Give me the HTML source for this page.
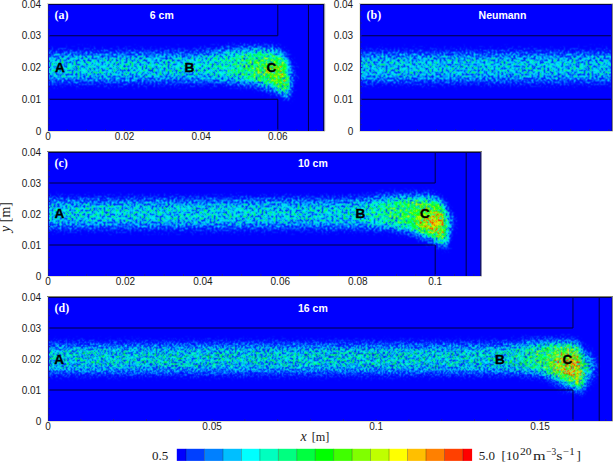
<!DOCTYPE html><html><head><meta charset="utf-8"><style>
html,body{margin:0;padding:0;background:#fff;width:613px;height:462px;overflow:hidden;}
svg{display:block;position:absolute;left:0;top:0;}
.sans{font-family:"Liberation Sans",sans-serif;}
.serif{font-family:"Liberation Serif",serif;}
</style></head><body>
<svg width="613" height="462" viewBox="0 0 613 462">
<defs>
<clipPath id="pc">
<rect x="48" y="4" width="276" height="127"/>
<rect x="360" y="4" width="252" height="127"/>
<rect x="48" y="152" width="433" height="124"/>
</clipPath>
<clipPath id="pcd">
<rect x="48" y="297" width="564" height="124"/>
</clipPath>
<filter id="blr" filterUnits="userSpaceOnUse" x="0" y="0" width="613" height="462" color-interpolation-filters="sRGB"><feGaussianBlur stdDeviation="2.8 4.8"/></filter>
<filter id="cm" filterUnits="userSpaceOnUse" x="0" y="0" width="613" height="462" color-interpolation-filters="sRGB"><feComponentTransfer in="SourceGraphic" result="s"><feFuncG type="gamma" amplitude="1" exponent="0.5" offset="0"/><feFuncB type="gamma" amplitude="1" exponent="0.5" offset="0"/></feComponentTransfer><feTurbulence type="fractalNoise" baseFrequency="0.5" numOctaves="2" seed="7" result="t"/><feColorMatrix in="t" type="matrix" values="0 0 0 0 1  1.680 1.680 0.000 0 -1.180  0 0 0 0 0.5  0 0 0 0 1" result="n"/><feComposite in="s" in2="n" operator="arithmetic" k1="1" k2="0" k3="0" k4="0" result="p"/><feColorMatrix in="p" type="matrix" values="1 1.1 -1.1 0 -0.02  1 1.1 -1.1 0 -0.02  1 1.1 -1.1 0 -0.02  0 0 0 0 1" result="u"/><feComponentTransfer in="u"><feFuncR type="table" tableValues="0 0 0 1 1"/><feFuncG type="table" tableValues="0 1 1 1 0"/><feFuncB type="table" tableValues="1 1 0 0 0"/><feFuncA type="linear" slope="0" intercept="1"/></feComponentTransfer><feConvolveMatrix order="3" kernelMatrix="1 2 1 2 8 2 1 2 1" edgeMode="duplicate"/></filter>
<filter id="cmd" filterUnits="userSpaceOnUse" x="0" y="0" width="613" height="462" color-interpolation-filters="sRGB"><feComponentTransfer in="SourceGraphic" result="s"><feFuncG type="gamma" amplitude="1" exponent="0.5" offset="0"/><feFuncB type="gamma" amplitude="1" exponent="0.5" offset="0"/></feComponentTransfer><feTurbulence type="fractalNoise" baseFrequency="0.62 0.55" numOctaves="2" seed="11" result="t"/><feColorMatrix in="t" type="matrix" values="0 0 0 0 1  1.680 1.680 0.000 0 -1.180  0 0 0 0 0.5  0 0 0 0 1" result="n"/><feComposite in="s" in2="n" operator="arithmetic" k1="1" k2="0" k3="0" k4="0" result="p"/><feColorMatrix in="p" type="matrix" values="1 1.1 -1.1 0 -0.02  1 1.1 -1.1 0 -0.02  1 1.1 -1.1 0 -0.02  0 0 0 0 1" result="u"/><feComponentTransfer in="u"><feFuncR type="table" tableValues="0 0 0 1 1"/><feFuncG type="table" tableValues="0 1 1 1 0"/><feFuncB type="table" tableValues="1 1 0 0 0"/><feFuncA type="linear" slope="0" intercept="1"/></feComponentTransfer><feConvolveMatrix order="3" kernelMatrix="1 2 1 2 8 2 1 2 1" edgeMode="duplicate"/></filter>
<linearGradient id="ga" gradientUnits="userSpaceOnUse" x1="48.0" y1="0" x2="293.1" y2="0"><stop offset="0.0000" stop-color="#3c3c3c"/><stop offset="0.4688" stop-color="#3c3c3c"/><stop offset="0.5781" stop-color="#3e3e3e"/><stop offset="0.7031" stop-color="#474747"/><stop offset="0.7812" stop-color="#575757"/><stop offset="0.8594" stop-color="#6e6e6e"/><stop offset="1.0000" stop-color="#757575"/></linearGradient>
<radialGradient id="dma"><stop offset="0" stop-color="#000" stop-opacity="0.35"/><stop offset="1" stop-color="#000" stop-opacity="0"/></radialGradient>
<radialGradient id="ha"><stop offset="0" stop-color="#fff" stop-opacity="0.33"/><stop offset="1" stop-color="#fff" stop-opacity="0"/></radialGradient>
<linearGradient id="gc" gradientUnits="userSpaceOnUse" x1="48.0" y1="0" x2="450.7" y2="0"><stop offset="0.0000" stop-color="#3c3c3c"/><stop offset="0.6731" stop-color="#3c3c3c"/><stop offset="0.7750" stop-color="#414141"/><stop offset="0.8240" stop-color="#525252"/><stop offset="0.8750" stop-color="#696969"/><stop offset="0.9231" stop-color="#808080"/><stop offset="1.0000" stop-color="#808080"/></linearGradient>
<radialGradient id="dmc"><stop offset="0" stop-color="#000" stop-opacity="0.3"/><stop offset="1" stop-color="#000" stop-opacity="0"/></radialGradient>
<radialGradient id="hc"><stop offset="0" stop-color="#fff" stop-opacity="0.66"/><stop offset="1" stop-color="#fff" stop-opacity="0"/></radialGradient>
<linearGradient id="gd" gradientUnits="userSpaceOnUse" x1="48.0" y1="0" x2="586.1" y2="0"><stop offset="0.0000" stop-color="#3e3e3e"/><stop offset="0.7622" stop-color="#3e3e3e"/><stop offset="0.8415" stop-color="#404040"/><stop offset="0.8780" stop-color="#4c4c4c"/><stop offset="0.9146" stop-color="#666666"/><stop offset="0.9451" stop-color="#808080"/><stop offset="1.0000" stop-color="#808080"/></linearGradient>
<radialGradient id="dmd"><stop offset="0" stop-color="#000" stop-opacity="0.12"/><stop offset="1" stop-color="#000" stop-opacity="0"/></radialGradient>
<radialGradient id="hd"><stop offset="0" stop-color="#fff" stop-opacity="0.7"/><stop offset="1" stop-color="#fff" stop-opacity="0"/></radialGradient>
</defs>
<g clip-path="url(#pc)"><g filter="url(#cm)">
<rect x="0" y="0" width="613" height="462" fill="#000"/>
<g filter="url(#blr)">
<path d="M38,54.5 L182.0,54.5 C208.9,54.5 220.3,50.4 239.5,50.4 L270.1,50.4 C279.6,50.4 287.4,56.1 287.4,63.1 L287.4,73.9 L290.4,94.5 C283.5,94.5 277.8,85.9 266.3,82.7 C251.0,82.7 235.7,79.9 208.9,79.9 L38,79.9 Z" fill="url(#ga)"/>
<ellipse cx="275.9" cy="75.1" rx="23.0" ry="19.1" fill="url(#ha)"/>
<ellipse cx="280.9" cy="52.3" rx="23.0" ry="11.1" fill="url(#dma)"/>
<rect x="350" y="54.5" width="272" height="25.4" fill="#373737"/>
<path d="M38,201.3 L338.4,201.3 C365.5,201.3 377.1,197.9 396.5,197.9 L427.5,197.9 C437.0,197.9 444.9,203.5 444.9,210.3 L444.9,220.2 L448.0,244.4 C441.0,244.4 435.2,236.3 423.6,232.6 C408.1,228.9 392.6,226.1 365.5,226.1 L38,226.1 Z" fill="url(#gc)"/>
<ellipse cx="433.3" cy="222.7" rx="23.2" ry="18.6" fill="url(#hc)"/>
<ellipse cx="438.3" cy="199.1" rx="23.2" ry="10.8" fill="url(#dmc)"/>
</g></g></g>
<g clip-path="url(#pcd)"><g filter="url(#cmd)">
<rect x="0" y="0" width="613" height="462" fill="#000"/>
<g filter="url(#blr)">
<path d="M38,346.3 L490.9,346.3 C513.9,346.3 523.7,344.1 540.1,344.1 L573.6,344.1 C577.2,344.1 580.2,347.6 580.2,351.9 L580.2,365.2 L583.8,389.4 C577.9,389.4 573.0,381.3 563.1,377.6 C550.0,373.9 536.9,371.1 513.9,371.1 L38,371.1 Z" fill="url(#gd)"/>
<ellipse cx="572.0" cy="367.7" rx="26.2" ry="21.7" fill="url(#hd)"/>
<ellipse cx="575.6" cy="344.1" rx="19.7" ry="10.8" fill="url(#dmd)"/>
</g></g></g>
<g stroke="#000040" stroke-width="1" fill="none">
<path d="M48,35.75H277.80V4M48,99.25H277.80V131M308.44,4V131"/>
<path d="M360,35.75H612M360,99.25H612"/>
<path d="M48,183.00H435.20V152M48,245.00H435.20V276M466.18,152V276"/>
<path d="M48,328.00H572.96V297M48,390.00H572.96V421M599.21,297V421"/>
</g>
<rect x="48" y="4" width="276" height="1" fill="#000050"/>
<rect x="323" y="4" width="1" height="127" fill="#000064"/>
<rect x="324" y="3" width="1" height="129" fill="#9696aa"/>
<rect x="325" y="4" width="1" height="127" fill="#eeeee4"/>
<rect x="48" y="4" width="1" height="127" fill="#1010c0"/>
<rect x="47" y="3" width="278" height="1" fill="#d8d8c0"/>
<rect x="47" y="4" width="1" height="128" fill="#ececdc"/>
<rect x="48" y="131" width="277" height="1" fill="#e0e0cc"/>
<rect x="360" y="4" width="252" height="1" fill="#000050"/>
<rect x="611" y="4" width="1" height="127" fill="#0000c8"/>
<rect x="612" y="3" width="1" height="129" fill="#878787"/>
<rect x="360" y="4" width="1" height="127" fill="#1010c0"/>
<rect x="359" y="3" width="254" height="1" fill="#d8d8c0"/>
<rect x="359" y="4" width="1" height="128" fill="#ececdc"/>
<rect x="360" y="131" width="253" height="1" fill="#e0e0cc"/>
<rect x="48" y="152" width="433" height="1" fill="#000050"/>
<rect x="480" y="152" width="1" height="124" fill="#141470"/>
<rect x="481" y="151" width="1" height="126" fill="#8c8cb0"/>
<rect x="48" y="152" width="1" height="124" fill="#1010c0"/>
<rect x="47" y="151" width="435" height="1" fill="#84846c"/>
<rect x="47" y="152" width="1" height="125" fill="#ececdc"/>
<rect x="48" y="276" width="434" height="1" fill="#e0e0cc"/>
<rect x="48" y="297" width="564" height="1" fill="#000050"/>
<rect x="611" y="297" width="1" height="124" fill="#0000c8"/>
<rect x="612" y="296" width="1" height="126" fill="#878787"/>
<rect x="48" y="297" width="1" height="124" fill="#1010c0"/>
<rect x="47" y="296" width="566" height="1" fill="#84846c"/>
<rect x="47" y="297" width="1" height="125" fill="#ececdc"/>
<rect x="48" y="421" width="565" height="1" fill="#e0e0cc"/>
<g fill="#1818a0">
<rect x="48" y="124.15" width="2" height="1"/>
<rect x="48" y="117.80" width="2" height="1"/>
<rect x="48" y="111.45" width="2" height="1"/>
<rect x="48" y="105.10" width="2" height="1"/>
<rect x="48" y="98.75" width="2" height="1"/>
<rect x="48" y="92.40" width="2" height="1"/>
<rect x="48" y="86.05" width="2" height="1"/>
<rect x="48" y="79.70" width="2" height="1"/>
<rect x="48" y="73.35" width="2" height="1"/>
<rect x="48" y="67.00" width="2" height="1"/>
<rect x="48" y="60.65" width="2" height="1"/>
<rect x="48" y="54.30" width="2" height="1"/>
<rect x="48" y="47.95" width="2" height="1"/>
<rect x="48" y="41.60" width="2" height="1"/>
<rect x="48" y="35.25" width="2" height="1"/>
<rect x="48" y="28.90" width="2" height="1"/>
<rect x="48" y="22.55" width="2" height="1"/>
<rect x="48" y="16.20" width="2" height="1"/>
<rect x="48" y="9.85" width="2" height="1"/>
<rect x="66.65" y="129" width="1" height="2"/>
<rect x="85.80" y="129" width="1" height="2"/>
<rect x="104.95" y="129" width="1" height="2"/>
<rect x="124.10" y="129" width="1" height="2"/>
<rect x="143.25" y="129" width="1" height="2"/>
<rect x="162.40" y="129" width="1" height="2"/>
<rect x="181.55" y="129" width="1" height="2"/>
<rect x="200.70" y="129" width="1" height="2"/>
<rect x="219.85" y="129" width="1" height="2"/>
<rect x="239.00" y="129" width="1" height="2"/>
<rect x="258.15" y="129" width="1" height="2"/>
<rect x="277.30" y="129" width="1" height="2"/>
<rect x="296.45" y="129" width="1" height="2"/>
<rect x="315.60" y="129" width="1" height="2"/>
<rect x="360" y="124.15" width="2" height="1"/>
<rect x="360" y="117.80" width="2" height="1"/>
<rect x="360" y="111.45" width="2" height="1"/>
<rect x="360" y="105.10" width="2" height="1"/>
<rect x="360" y="98.75" width="2" height="1"/>
<rect x="360" y="92.40" width="2" height="1"/>
<rect x="360" y="86.05" width="2" height="1"/>
<rect x="360" y="79.70" width="2" height="1"/>
<rect x="360" y="73.35" width="2" height="1"/>
<rect x="360" y="67.00" width="2" height="1"/>
<rect x="360" y="60.65" width="2" height="1"/>
<rect x="360" y="54.30" width="2" height="1"/>
<rect x="360" y="47.95" width="2" height="1"/>
<rect x="360" y="41.60" width="2" height="1"/>
<rect x="360" y="35.25" width="2" height="1"/>
<rect x="360" y="28.90" width="2" height="1"/>
<rect x="360" y="22.55" width="2" height="1"/>
<rect x="360" y="16.20" width="2" height="1"/>
<rect x="360" y="9.85" width="2" height="1"/>
<rect x="378.65" y="129" width="1" height="2"/>
<rect x="397.80" y="129" width="1" height="2"/>
<rect x="416.95" y="129" width="1" height="2"/>
<rect x="436.10" y="129" width="1" height="2"/>
<rect x="455.25" y="129" width="1" height="2"/>
<rect x="474.40" y="129" width="1" height="2"/>
<rect x="493.55" y="129" width="1" height="2"/>
<rect x="512.70" y="129" width="1" height="2"/>
<rect x="531.85" y="129" width="1" height="2"/>
<rect x="551.00" y="129" width="1" height="2"/>
<rect x="570.15" y="129" width="1" height="2"/>
<rect x="589.30" y="129" width="1" height="2"/>
<rect x="608.45" y="129" width="1" height="2"/>
<rect x="48" y="269.30" width="2" height="1"/>
<rect x="48" y="263.10" width="2" height="1"/>
<rect x="48" y="256.90" width="2" height="1"/>
<rect x="48" y="250.70" width="2" height="1"/>
<rect x="48" y="244.50" width="2" height="1"/>
<rect x="48" y="238.30" width="2" height="1"/>
<rect x="48" y="232.10" width="2" height="1"/>
<rect x="48" y="225.90" width="2" height="1"/>
<rect x="48" y="219.70" width="2" height="1"/>
<rect x="48" y="213.50" width="2" height="1"/>
<rect x="48" y="207.30" width="2" height="1"/>
<rect x="48" y="201.10" width="2" height="1"/>
<rect x="48" y="194.90" width="2" height="1"/>
<rect x="48" y="188.70" width="2" height="1"/>
<rect x="48" y="182.50" width="2" height="1"/>
<rect x="48" y="176.30" width="2" height="1"/>
<rect x="48" y="170.10" width="2" height="1"/>
<rect x="48" y="163.90" width="2" height="1"/>
<rect x="48" y="157.70" width="2" height="1"/>
<rect x="66.86" y="274" width="1" height="2"/>
<rect x="86.22" y="274" width="1" height="2"/>
<rect x="105.58" y="274" width="1" height="2"/>
<rect x="124.94" y="274" width="1" height="2"/>
<rect x="144.30" y="274" width="1" height="2"/>
<rect x="163.66" y="274" width="1" height="2"/>
<rect x="183.02" y="274" width="1" height="2"/>
<rect x="202.38" y="274" width="1" height="2"/>
<rect x="221.74" y="274" width="1" height="2"/>
<rect x="241.10" y="274" width="1" height="2"/>
<rect x="260.46" y="274" width="1" height="2"/>
<rect x="279.82" y="274" width="1" height="2"/>
<rect x="299.18" y="274" width="1" height="2"/>
<rect x="318.54" y="274" width="1" height="2"/>
<rect x="337.90" y="274" width="1" height="2"/>
<rect x="357.26" y="274" width="1" height="2"/>
<rect x="376.62" y="274" width="1" height="2"/>
<rect x="395.98" y="274" width="1" height="2"/>
<rect x="415.34" y="274" width="1" height="2"/>
<rect x="434.70" y="274" width="1" height="2"/>
<rect x="454.06" y="274" width="1" height="2"/>
<rect x="473.42" y="274" width="1" height="2"/>
<rect x="48" y="414.30" width="2" height="1"/>
<rect x="48" y="408.10" width="2" height="1"/>
<rect x="48" y="401.90" width="2" height="1"/>
<rect x="48" y="395.70" width="2" height="1"/>
<rect x="48" y="389.50" width="2" height="1"/>
<rect x="48" y="383.30" width="2" height="1"/>
<rect x="48" y="377.10" width="2" height="1"/>
<rect x="48" y="370.90" width="2" height="1"/>
<rect x="48" y="364.70" width="2" height="1"/>
<rect x="48" y="358.50" width="2" height="1"/>
<rect x="48" y="352.30" width="2" height="1"/>
<rect x="48" y="346.10" width="2" height="1"/>
<rect x="48" y="339.90" width="2" height="1"/>
<rect x="48" y="333.70" width="2" height="1"/>
<rect x="48" y="327.50" width="2" height="1"/>
<rect x="48" y="321.30" width="2" height="1"/>
<rect x="48" y="315.10" width="2" height="1"/>
<rect x="48" y="308.90" width="2" height="1"/>
<rect x="48" y="302.70" width="2" height="1"/>
<rect x="80.31" y="419" width="1" height="2"/>
<rect x="113.12" y="419" width="1" height="2"/>
<rect x="145.93" y="419" width="1" height="2"/>
<rect x="178.74" y="419" width="1" height="2"/>
<rect x="211.55" y="419" width="1" height="2"/>
<rect x="244.36" y="419" width="1" height="2"/>
<rect x="277.17" y="419" width="1" height="2"/>
<rect x="309.98" y="419" width="1" height="2"/>
<rect x="342.79" y="419" width="1" height="2"/>
<rect x="375.60" y="419" width="1" height="2"/>
<rect x="408.41" y="419" width="1" height="2"/>
<rect x="441.22" y="419" width="1" height="2"/>
<rect x="474.03" y="419" width="1" height="2"/>
<rect x="506.84" y="419" width="1" height="2"/>
<rect x="539.65" y="419" width="1" height="2"/>
<rect x="572.46" y="419" width="1" height="2"/>
<rect x="605.27" y="419" width="1" height="2"/>
</g>
<g class="sans" font-size="10" fill="#1a1a1a">
<text x="41.2" y="7.6" text-anchor="end">0.04</text>
<text x="41.2" y="39.4" text-anchor="end">0.03</text>
<text x="41.2" y="71.1" text-anchor="end">0.02</text>
<text x="41.2" y="102.8" text-anchor="end">0.01</text>
<text x="41.2" y="134.6" text-anchor="end">0</text>
<text x="353.2" y="7.6" text-anchor="end">0.04</text>
<text x="353.2" y="39.4" text-anchor="end">0.03</text>
<text x="353.2" y="71.1" text-anchor="end">0.02</text>
<text x="353.2" y="102.8" text-anchor="end">0.01</text>
<text x="353.2" y="134.6" text-anchor="end">0</text>
<text x="41.2" y="155.6" text-anchor="end">0.04</text>
<text x="41.2" y="186.6" text-anchor="end">0.03</text>
<text x="41.2" y="217.6" text-anchor="end">0.02</text>
<text x="41.2" y="248.6" text-anchor="end">0.01</text>
<text x="41.2" y="279.6" text-anchor="end">0</text>
<text x="41.2" y="300.6" text-anchor="end">0.04</text>
<text x="41.2" y="331.6" text-anchor="end">0.03</text>
<text x="41.2" y="362.6" text-anchor="end">0.02</text>
<text x="41.2" y="393.6" text-anchor="end">0.01</text>
<text x="41.2" y="424.6" text-anchor="end">0</text>
<text x="48.0" y="139.7" text-anchor="middle">0</text>
<text x="124.6" y="139.7" text-anchor="middle">0.02</text>
<text x="201.2" y="139.7" text-anchor="middle">0.04</text>
<text x="277.8" y="139.7" text-anchor="middle">0.06</text>
<text x="48.0" y="284.7" text-anchor="middle">0</text>
<text x="125.4" y="284.7" text-anchor="middle">0.02</text>
<text x="202.9" y="284.7" text-anchor="middle">0.04</text>
<text x="280.3" y="284.7" text-anchor="middle">0.06</text>
<text x="357.8" y="284.7" text-anchor="middle">0.08</text>
<text x="435.2" y="284.7" text-anchor="middle">0.1</text>
<text x="48.0" y="429.7" text-anchor="middle">0</text>
<text x="212.1" y="429.7" text-anchor="middle">0.05</text>
<text x="376.1" y="429.7" text-anchor="middle">0.1</text>
<text x="540.1" y="429.7" text-anchor="middle">0.15</text>
</g>
<text class="serif" x="54.5" y="18.6" font-size="12" font-weight="bold" fill="#fff">(a)</text>
<text class="sans" x="149.8" y="18.8" font-size="10.5" font-weight="bold" fill="#fff">6 cm</text>
<text class="serif" x="366.5" y="18.6" font-size="12" font-weight="bold" fill="#fff">(b)</text>
<text class="sans" x="478.6" y="18.8" font-size="10.5" font-weight="bold" fill="#fff">Neumann</text>
<text class="serif" x="54.5" y="166.6" font-size="12" font-weight="bold" fill="#fff">(c)</text>
<text class="sans" x="298.0" y="166.8" font-size="10.5" font-weight="bold" fill="#fff">10 cm</text>
<text class="serif" x="54.5" y="311.6" font-size="12" font-weight="bold" fill="#fff">(d)</text>
<text class="sans" x="298.0" y="311.8" font-size="10.5" font-weight="bold" fill="#fff">16 cm</text>
<g class="sans" font-size="13.6" font-weight="bold" fill="#000" stroke="#000" stroke-width="0.35" text-anchor="middle">
<text x="59.9" y="71.9">A</text>
<text x="189.5" y="71.9">B</text>
<text x="271.5" y="71.9">C</text>
<text x="59.5" y="218.4">A</text>
<text x="360.5" y="218.4">B</text>
<text x="425" y="218.4">C</text>
<text x="59.2" y="364.4">A</text>
<text x="499.8" y="364.4">B</text>
<text x="567.5" y="364.4">C</text>
</g>
<text class="serif" x="300.6" y="440.8" font-size="14" fill="#1a1a1a" font-style="italic">x</text>
<text class="serif" x="311.8" y="440.8" font-size="13.5" fill="#1a1a1a" textLength="17.6" lengthAdjust="spacingAndGlyphs">[m]</text>
<text class="serif" transform="translate(9.6,217.0) rotate(-90)" font-size="14" text-anchor="middle" fill="#1a1a1a"><tspan font-style="italic">y</tspan> [m]</text>
<g>
<rect x="176.80" y="448.8" width="9.23" height="12.1" fill="rgb(0, 0, 255)"/>
<rect x="186.03" y="448.8" width="18.46" height="12.1" fill="rgb(0, 64, 255)"/>
<rect x="204.48" y="448.8" width="18.46" height="12.1" fill="rgb(0, 128, 255)"/>
<rect x="222.94" y="448.8" width="18.46" height="12.1" fill="rgb(0, 191, 255)"/>
<rect x="241.40" y="448.8" width="18.46" height="12.1" fill="rgb(0, 255, 255)"/>
<rect x="259.85" y="448.8" width="18.46" height="12.1" fill="rgb(0, 255, 191)"/>
<rect x="278.31" y="448.8" width="18.46" height="12.1" fill="rgb(0, 255, 128)"/>
<rect x="296.77" y="448.8" width="18.46" height="12.1" fill="rgb(0, 255, 64)"/>
<rect x="315.22" y="448.8" width="18.46" height="12.1" fill="rgb(0, 255, 0)"/>
<rect x="333.68" y="448.8" width="18.46" height="12.1" fill="rgb(64, 255, 0)"/>
<rect x="352.13" y="448.8" width="18.46" height="12.1" fill="rgb(128, 255, 0)"/>
<rect x="370.59" y="448.8" width="18.46" height="12.1" fill="rgb(191, 255, 0)"/>
<rect x="389.05" y="448.8" width="18.46" height="12.1" fill="rgb(255, 255, 0)"/>
<rect x="407.50" y="448.8" width="18.46" height="12.1" fill="rgb(255, 191, 0)"/>
<rect x="425.96" y="448.8" width="18.46" height="12.1" fill="rgb(255, 128, 0)"/>
<rect x="444.42" y="448.8" width="18.46" height="12.1" fill="rgb(255, 64, 0)"/>
<rect x="462.87" y="448.8" width="9.23" height="12.1" fill="rgb(255, 0, 0)"/>
<rect x="185.63" y="448.8" width="0.8" height="12.1" fill="#000" opacity="0.35"/>
<rect x="204.08" y="448.8" width="0.8" height="12.1" fill="#000" opacity="0.35"/>
<rect x="222.54" y="448.8" width="0.8" height="12.1" fill="#000" opacity="0.35"/>
<rect x="241.00" y="448.8" width="0.8" height="12.1" fill="#000" opacity="0.35"/>
<rect x="259.45" y="448.8" width="0.8" height="12.1" fill="#000" opacity="0.35"/>
<rect x="277.91" y="448.8" width="0.8" height="12.1" fill="#000" opacity="0.35"/>
<rect x="296.37" y="448.8" width="0.8" height="12.1" fill="#000" opacity="0.35"/>
<rect x="314.82" y="448.8" width="0.8" height="12.1" fill="#000" opacity="0.35"/>
<rect x="333.28" y="448.8" width="0.8" height="12.1" fill="#000" opacity="0.35"/>
<rect x="351.73" y="448.8" width="0.8" height="12.1" fill="#000" opacity="0.35"/>
<rect x="370.19" y="448.8" width="0.8" height="12.1" fill="#000" opacity="0.35"/>
<rect x="388.65" y="448.8" width="0.8" height="12.1" fill="#000" opacity="0.35"/>
<rect x="407.10" y="448.8" width="0.8" height="12.1" fill="#000" opacity="0.35"/>
<rect x="425.56" y="448.8" width="0.8" height="12.1" fill="#000" opacity="0.35"/>
<rect x="444.02" y="448.8" width="0.8" height="12.1" fill="#000" opacity="0.35"/>
<rect x="462.47" y="448.8" width="0.8" height="12.1" fill="#000" opacity="0.35"/>
</g>
<text class="serif" x="152" y="459.7" font-size="13" fill="#1a1a1a">0.5</text>
<text class="serif" x="478.8" y="459.7" font-size="13" fill="#1a1a1a">5.0</text>
<g class="serif" fill="#1a1a1a" font-size="13"><text x="501.6" y="459.6">[10</text><text x="520.0" y="454.6" font-size="10" textLength="11.6" lengthAdjust="spacingAndGlyphs">20</text><text x="533.0" y="459.6" textLength="12.6" lengthAdjust="spacingAndGlyphs">m</text><text x="546.3" y="454.6" font-size="10" textLength="10.0" lengthAdjust="spacingAndGlyphs">&#8722;3</text><text x="556.2" y="459.6" textLength="6.2" lengthAdjust="spacingAndGlyphs">s</text><text x="563.0" y="454.6" font-size="10" textLength="11.6" lengthAdjust="spacingAndGlyphs">&#8722;1</text><text x="576.6" y="459.6">]</text></g>
</svg></body></html>
